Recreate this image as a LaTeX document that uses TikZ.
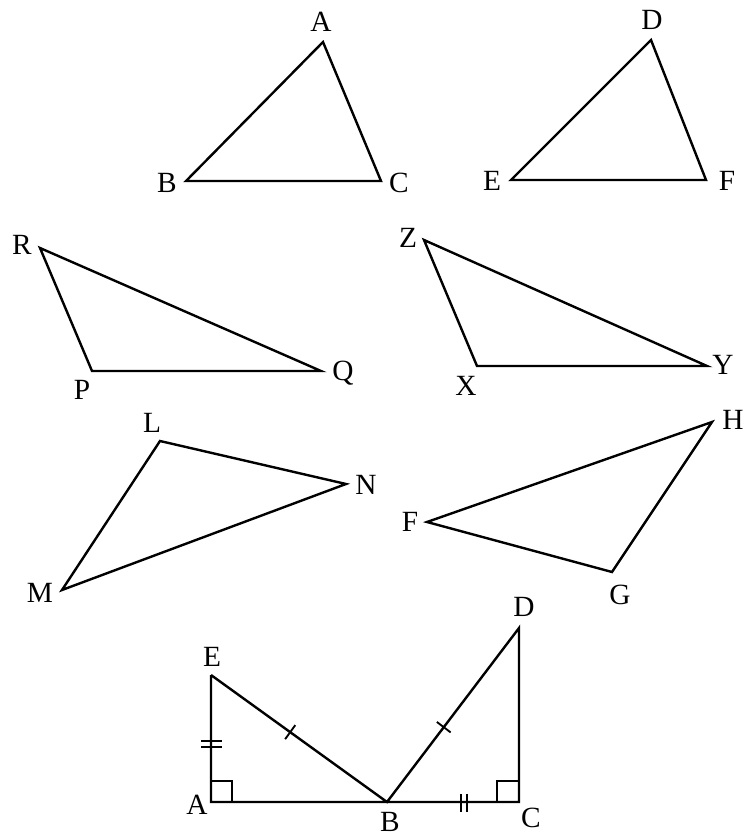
\documentclass[tikz,border=0pt]{standalone}
\usepackage{fontspec}
\setmainfont{Liberation Serif}
\usetikzlibrary{calc}
\begin{document}
\begin{tikzpicture}[x=0.75pt,y=-0.75pt,
  edge/.style={line width=1.8pt,line join=miter},
  thin edge/.style={line width=1.4pt},
  lbl/.style={inner sep=0pt,font=\fontsize{22}{22}\selectfont}]
\useasboundingbox (0,0) rectangle (745,837);
% Triangle ABC
\coordinate (A1) at (323,42); \coordinate (B1) at (186,181); \coordinate (C1) at (381,181);
\draw[edge] (A1)--(B1)--(C1)--cycle;
\node[lbl] (lA1) at (321,22) {A}; \node[lbl] (lB1) at (167,183) {B}; \node[lbl] (lC1) at (399,183) {C};
% Triangle DEF
\coordinate (D1) at (651,40); \coordinate (E1) at (511,180); \coordinate (F1) at (706,180);
\draw[edge] (D1)--(E1)--(F1)--cycle;
\node[lbl] (lD1) at (652,20) {D}; \node[lbl] (lE1) at (492,181) {E}; \node[lbl] (lF1) at (727,181) {F};
% Triangle PQR
\coordinate (R) at (40,248); \coordinate (P) at (92,371); \coordinate (Q) at (321,371);
\draw[edge] (R)--(P)--(Q)--cycle;
\node[lbl] (lR) at (22,245) {R}; \node[lbl] (lP) at (82,390) {P}; \node[lbl] (lQ) at (343,373) {Q};
% Triangle XYZ
\coordinate (Z) at (424,240); \coordinate (X) at (477,366); \coordinate (Y) at (707,366);
\draw[edge] (Z)--(X)--(Y)--cycle;
\node[lbl] (lZ) at (408,238) {Z}; \node[lbl] (lX) at (466,386) {X}; \node[lbl] (lY) at (723,365) {Y};
% Triangle LMN
\coordinate (L) at (160,441); \coordinate (M) at (62,590); \coordinate (N) at (346,484);
\draw[edge] (L)--(M)--(N)--cycle;
\node[lbl] (lL) at (152,423) {L}; \node[lbl] (lM) at (40,593) {M}; \node[lbl] (lN) at (366,485) {N};
% Triangle FGH
\coordinate (F2) at (427,522); \coordinate (G) at (612,572); \coordinate (H) at (712,422);
\draw[edge] (F2)--(G)--(H)--cycle;
\node[lbl] (lF2) at (410,522) {F}; \node[lbl] (lG) at (620,595) {G}; \node[lbl] (lH) at (733,420) {H};
% Bottom figure
\coordinate (E) at (211,675); \coordinate (A) at (211,802); \coordinate (B) at (387,802);
\coordinate (C) at (519,802); \coordinate (D) at (519,628);
\draw[edge] (E)--(A)--(C)--(D)--(B)--(E);
\node[lbl] (lE) at (212,657) {E}; \node[lbl] (lA) at (197,805) {A}; \node[lbl] (lB) at (390,822) {B};
\node[lbl] (lC) at (531,818) {C}; \node[lbl] (lD) at (524,607) {D};
% right angles
\draw[thin edge] (211,781) -- (232,781) -- (232,802);
\draw[thin edge] (497,802) -- (497,781) -- (519,781);
% single ticks
\coordinate (t1) at ($(E)!0.45!(B)$);
\draw[thin edge] ($(t1)!6.5pt!90:(B)$) -- ($(t1)!6.5pt!-90:(B)$);
\coordinate (t2) at ($(B)!0.43!(D)$);
\draw[thin edge] ($(t2)!6.5pt!90:(D)$) -- ($(t2)!6.5pt!-90:(D)$);
% double ticks
\draw[thin edge] (201,741) -- (222,741) (201,747) -- (222,747);
\draw[thin edge] (461,794) -- (461,812) (467,794) -- (467,812);
\end{tikzpicture}
\end{document}
